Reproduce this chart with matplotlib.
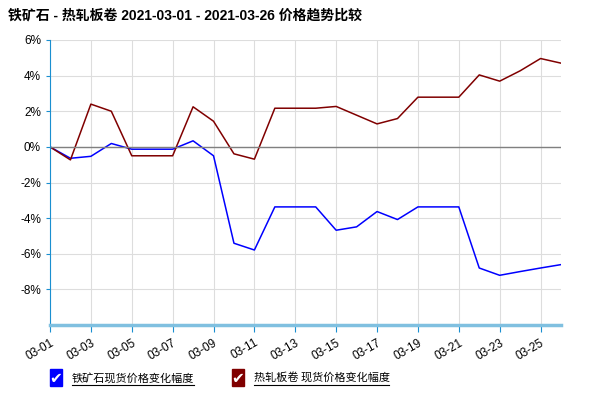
import matplotlib.pyplot as plt
from matplotlib.patches import Rectangle
from matplotlib.lines import Line2D

plt.rcParams['font.family'] = ['Liberation Sans', 'Noto Sans CJK SC', 'DejaVu Sans']

# 日期与两条序列（价格变化幅度，%）
dates = ['03-%02d' % d for d in range(1, 27)]
iron_ore = [0, -0.64, -0.53, 0.19, -0.13, -0.13, -0.13, 0.34, -0.5, -5.41,
            -5.79, -3.37, -3.37, -3.37, -4.68, -4.49, -3.63, -4.08, -3.37, -3.37,
            -3.37, -6.80, -7.21, -7.0, -6.80, -6.61]
hot_coil = [0, -0.73, 2.40, 2.0, -0.5, -0.5, -0.5, 2.25, 1.44, -0.39,
            -0.69, 2.17, 2.17, 2.17, 2.27, 1.78, 1.29, 1.59, 2.79, 2.79,
            2.79, 4.04, 3.69, 4.27, 4.96, 4.70]
y_ticks = [6, 4, 2, 0, -2, -4, -6, -8]
legend_labels = ['铁矿石现货价格变化幅度', '热轧板卷 现货价格变化幅度']
colors = ['#0000ff', '#800000']

fig = plt.figure(figsize=(6, 4), dpi=100)
ax = fig.add_axes([50 / 600, 1 - 325 / 400, 511 / 600, 285 / 400])

x = list(range(len(dates)))
ax.plot(x, iron_ore, color=colors[0], lw=1.1)
ax.plot(x, hot_coil, color=colors[1], lw=1.1)
ax.axhline(0, color='#808080', lw=1)

ax.set_xlim(0, len(dates) - 1)
ax.set_ylim(-10, 6)
ax.set_yticks(y_ticks)
ax.set_yticklabels(['%d%%' % v for v in y_ticks], fontsize=8.5)
ax.set_xticks(x[::2])
ax.set_xticklabels(dates[::2], rotation=30, ha='right', fontsize=8.5,
                   rotation_mode='anchor')
ax.grid(True, color='#dddddd', lw=0.8)
ax.set_axisbelow(True)

for s in ['top', 'right']:
    ax.spines[s].set_visible(False)
ax.spines['left'].set_color('#1a8fd0')
ax.spines['bottom'].set_color('#80c0e0')
ax.spines['bottom'].set_linewidth(2.5)
ax.tick_params(axis='x', colors='#1a8fd0', length=5, labelcolor='black')
ax.tick_params(axis='y', colors='#1a8fd0', length=3, labelcolor='black')

fig.text(8 / 600, 1 - 16 / 400, '铁矿石 - 热轧板卷 2021-03-01 - 2021-03-26 价格趋势比较',
         fontsize=10, fontweight='bold', va='center', ha='left')

# 底部的复选框图例
for i, (lab, c) in enumerate(zip(legend_labels, colors)):
    bx = [50, 232][i]
    fig.patches.append(Rectangle((bx / 600, 1 - 386 / 400), 12 / 600, 17 / 400,
                                 transform=fig.transFigure, color=c))
    fig.text((bx + 6) / 600, 1 - 378 / 400, '✔', color='white', fontsize=11,
             ha='center', va='center', family=['DejaVu Sans'])
    t = fig.text((bx + 22) / 600, 1 - 378 / 400, lab, fontsize=8, va='center',
                 ha='left', family=['Noto Sans CJK SC', 'DejaVu Sans'])
    w = [122, 135][i]
    fig.lines.append(Line2D([(bx + 22) / 600, (bx + 22 + w) / 600],
                            [1 - 385 / 400, 1 - 385 / 400],
                            transform=fig.transFigure, color='black', lw=0.8))

fig.savefig('out.png', dpi=100)
